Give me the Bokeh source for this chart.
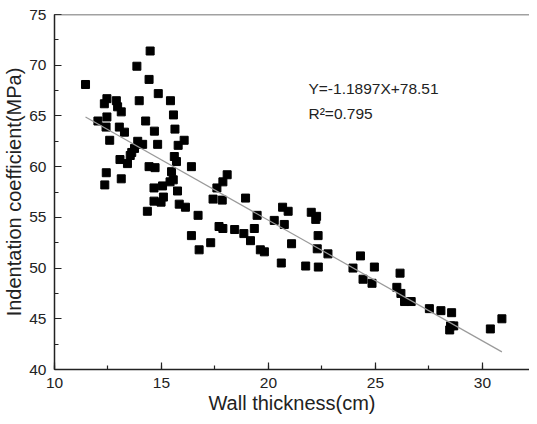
from bokeh.plotting import figure
from bokeh.models import Range1d, SingleIntervalTicker, Span, Label
from bokeh.embed import file_html
from bokeh.resources import INLINE

wall_thickness = [
    14.47, 13.85, 11.45, 14.42, 14.85, 12.45, 12.33, 12.89, 13.96, 15.42,
    12.95, 13.12, 15.56, 12.45, 12.03, 14.26, 12.41, 13.03, 13.27, 14.67,
    15.63, 12.58, 16.06, 13.89, 14.12, 14.82, 15.78, 13.74, 13.61, 13.54,
    15.60, 13.06, 13.41, 15.70, 14.42, 14.70, 16.40, 15.47, 12.42, 13.12,
    15.40, 15.55, 12.35, 14.65, 15.05, 15.75, 17.41, 17.84, 18.07, 17.87,
    17.59, 14.65, 14.98, 15.09, 15.83, 16.12, 14.34, 18.93, 16.71, 19.47,
    20.66, 20.92, 22.00, 22.21, 22.25, 20.27, 20.74, 19.34, 17.69, 17.87,
    18.42, 18.85, 19.16, 16.40, 17.30, 16.76, 19.62, 19.81, 21.08, 22.32,
    22.28, 22.78, 24.30, 20.60, 21.74, 22.33, 23.95, 24.95, 24.42, 24.84,
    26.00, 26.15, 26.19, 26.36, 26.67, 27.52, 28.06, 28.56, 28.51, 28.66,
    28.47, 30.37, 30.91,
]
indentation = [
    71.4, 69.9, 68.1, 68.6, 67.2, 66.7, 66.2, 66.5, 66.5, 66.5,
    65.9, 65.4, 65.1, 64.9, 64.5, 64.5, 63.9, 63.9, 63.4, 63.5,
    63.7, 62.6, 62.6, 62.5, 62.2, 62.2, 62.1, 61.8, 61.4, 61.1,
    61.0, 60.7, 60.3, 60.5, 60.0, 59.9, 60.0, 59.5, 59.4, 58.8,
    58.5, 58.7, 58.2, 57.9, 58.1, 57.6, 56.8, 56.7, 59.2, 58.5,
    57.9, 56.6, 56.5, 57.0, 56.3, 56.0, 55.6, 56.9, 55.2, 55.2,
    56.0, 55.6, 55.5, 54.8, 55.1, 54.7, 54.3, 53.9, 54.1, 53.9,
    53.8, 53.4, 52.7, 53.2, 52.5, 51.8, 51.8, 51.6, 52.4, 53.2,
    51.9, 51.4, 51.2, 50.5, 50.2, 50.1, 50.0, 50.1, 48.9, 48.5,
    48.1, 49.5, 47.5, 46.7, 46.7, 46.0, 45.8, 45.6, 44.3, 44.3,
    43.9, 44.0, 45.0,
]
fit_slope = -1.1897
fit_intercept = 78.51
fit_r2 = 0.795

FONT = "Liberation Sans"

p = figure(width=529, height=416, output_backend="svg", toolbar_location=None,
           x_range=Range1d(10, 32.2), y_range=Range1d(40, 75),
           min_border_left=45, min_border_right=0, min_border_top=14,
           min_border_bottom=45)
p.outline_line_color = None
p.grid.visible = False
p.background_fill_color = "white"
p.border_fill_color = "white"

p.xaxis.ticker = SingleIntervalTicker(interval=5, num_minor_ticks=2)
p.yaxis.ticker = SingleIntervalTicker(interval=5, num_minor_ticks=2)
for ax in (p.xaxis[0], p.yaxis[0]):
    ax.axis_line_color = "#222222"
    ax.axis_line_width = 1.5
    ax.major_tick_in = 7
    ax.major_tick_out = 0
    ax.minor_tick_in = 4
    ax.minor_tick_out = 0
    ax.major_tick_line_color = "#222222"
    ax.minor_tick_line_color = "#222222"
    ax.major_tick_line_width = 1.2
    ax.minor_tick_line_width = 1.2
    ax.major_label_text_font = FONT
    ax.major_label_text_font_size = "15.5px"
    ax.major_label_text_color = "#222222"
    ax.axis_label_text_font = FONT
    ax.axis_label_text_font_size = "20px"
    ax.axis_label_text_font_style = "normal"
    ax.axis_label_text_color = "#222222"

p.xaxis.axis_label = "Wall thickness(cm)"
p.yaxis.axis_label = "Indentation coefficient(MPa)"
p.xaxis.major_label_standoff = 8
p.yaxis.major_label_standoff = 8
p.xaxis.axis_label_standoff = 1
p.yaxis.axis_label_standoff = 1

p.add_layout(Span(location=75, dimension="width", line_color="#444444", line_width=1.5))

p.scatter(wall_thickness, indentation, marker="square", size=8,
          fill_color="black", line_color="black")

x0, x1 = min(wall_thickness), max(wall_thickness)
p.line([x0, x1], [fit_slope * x0 + fit_intercept, fit_slope * x1 + fit_intercept],
       line_color="#9a9a9a", line_width=1.2)

p.add_layout(Label(x=21.87, y=68.5, text=f"Y={fit_slope}X+{fit_intercept}",
                   text_font=FONT, text_font_size="15.5px", text_color="#222222",
                   text_baseline="top"))
p.add_layout(Label(x=21.87, y=66.1, text=f"R\u00b2={fit_r2}",
                   text_font=FONT, text_font_size="15.5px", text_color="#222222",
                   text_baseline="top"))

open("out.html", "w").write(file_html(p, INLINE))
